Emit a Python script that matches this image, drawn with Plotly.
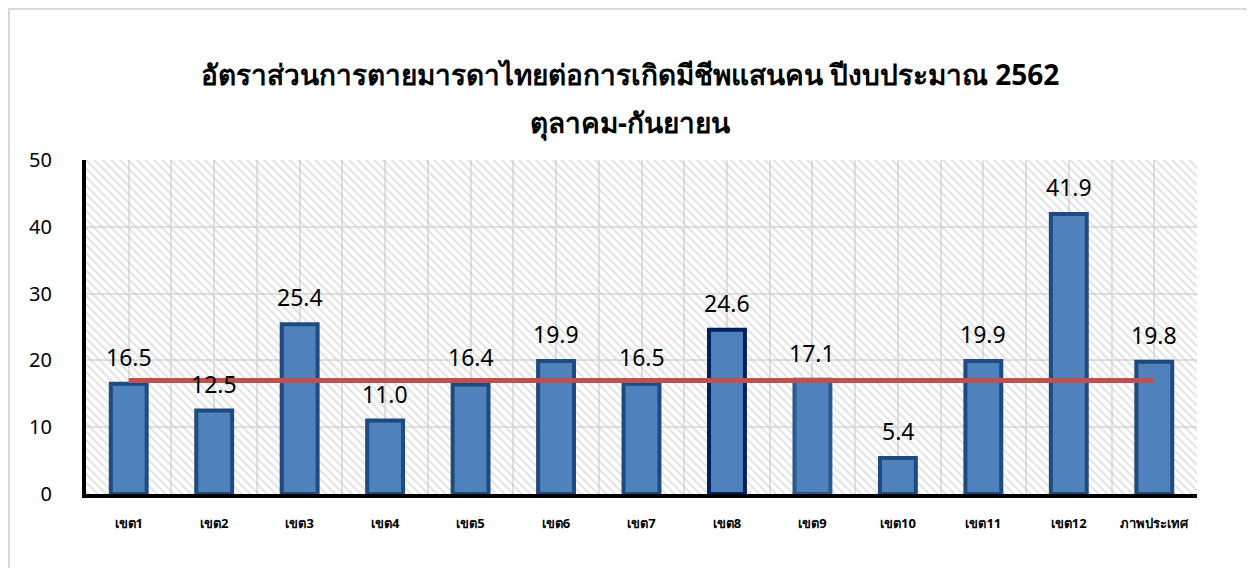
import plotly.graph_objects as go

categories = ["เขต1", "เขต2", "เขต3", "เขต4", "เขต5", "เขต6", "เขต7",
              "เขต8", "เขต9", "เขต10", "เขต11", "เขต12", "ภาพประเทศ"]
rates = [16.5, 12.5, 25.4, 11.0, 16.4, 19.9, 16.5, 24.6, 17.1, 5.4, 19.9, 41.9, 19.8]
target = 17
y_ticks = [0, 10, 20, 30, 40, 50]

title_line1 = "อัตราส่วนการตายมารดาไทยต่อการเกิดมีชีพแสนคน ปีงบประมาณ 2562"
title_line2 = "ตุลาคม-กันยายน"

idx = list(range(len(categories)))
outline = ["#1f4a7d"] * len(categories)
outline[7] = "#002060"
outline[8] = "#2c5a8e"

fig = go.Figure()

# hatched plot background
fig.add_trace(go.Bar(
    x=[(len(categories) - 1) / 2], y=[max(y_ticks)], width=[len(categories)],
    marker=dict(color="rgba(0,0,0,0)", line=dict(width=0),
                pattern=dict(shape="\\", fgcolor="#c6c6c6", bgcolor="rgba(0,0,0,0)",
                             size=6, solidity=0.35)),
    hoverinfo="skip", showlegend=False,
))

fig.add_trace(go.Bar(
    x=idx, y=rates, width=0.42,
    marker=dict(color="#4f81bd", line=dict(color=outline, width=4)),
    showlegend=False,
))

fig.add_trace(go.Scatter(
    x=idx, y=[target] * len(idx), mode="lines",
    line=dict(color="#c0504d", width=5), showlegend=False,
))

# value labels above bars
annotations = [
    dict(x=i, y=v, text=f"{v:.1f}", showarrow=False, yanchor="middle", yshift=27,
         font=dict(size=23, color="#000000"))
    for i, v in zip(idx, rates)
]
annotations.append(dict(
    text=f"<b>{title_line2}</b>", xref="paper", yref="paper",
    x=0.4896, y=1.1138, xanchor="center", yanchor="middle", showarrow=False,
    font=dict(size=28, color="#000000"),
))

fig.update_layout(
    width=1255, height=568,
    barmode="overlay",
    paper_bgcolor="white", plot_bgcolor="white",
    font=dict(family="Noto Sans, DejaVu Sans, sans-serif", color="#000000"),
    title=dict(text=f"<b>{title_line1}</b>", x=0.4956, xanchor="center",
               y=0.882, yanchor="middle", font=dict(size=28, color="#000000")),
    margin=dict(l=78, r=66, t=152, b=82),
    annotations=annotations,
    shapes=[dict(type="rect", xref="paper", yref="paper",
                 x0=-0.0693, x1=1.0504, y0=-0.266, y1=1.452,
                 line=dict(color="#d9d9d9", width=2), layer="above")],
)

fig.update_xaxes(
    range=[-0.5, len(categories) - 0.5],
    tickvals=idx, ticktext=[f"<b>{c}</b>" for c in categories],
    tickfont=dict(size=13, color="#000000"),
    showline=True, linecolor="#000000", linewidth=4,
    showgrid=True, gridcolor="#e0e0e0", gridwidth=1.5,
    minor=dict(dtick=0.5, tick0=-0.5, showgrid=True, gridcolor="#e0e0e0", gridwidth=1.5),
    ticks="", ticklabelstandoff=14, zeroline=False,
)
fig.update_yaxes(
    range=[0, 50], tickvals=y_ticks,
    tickfont=dict(size=20, color="#000000"),
    showline=True, linecolor="#000000", linewidth=4,
    showgrid=True, gridcolor="#e0e0e0", gridwidth=1.5,
    ticks="", ticklabelstandoff=26, zeroline=False,
)

fig.write_html("out.html")
